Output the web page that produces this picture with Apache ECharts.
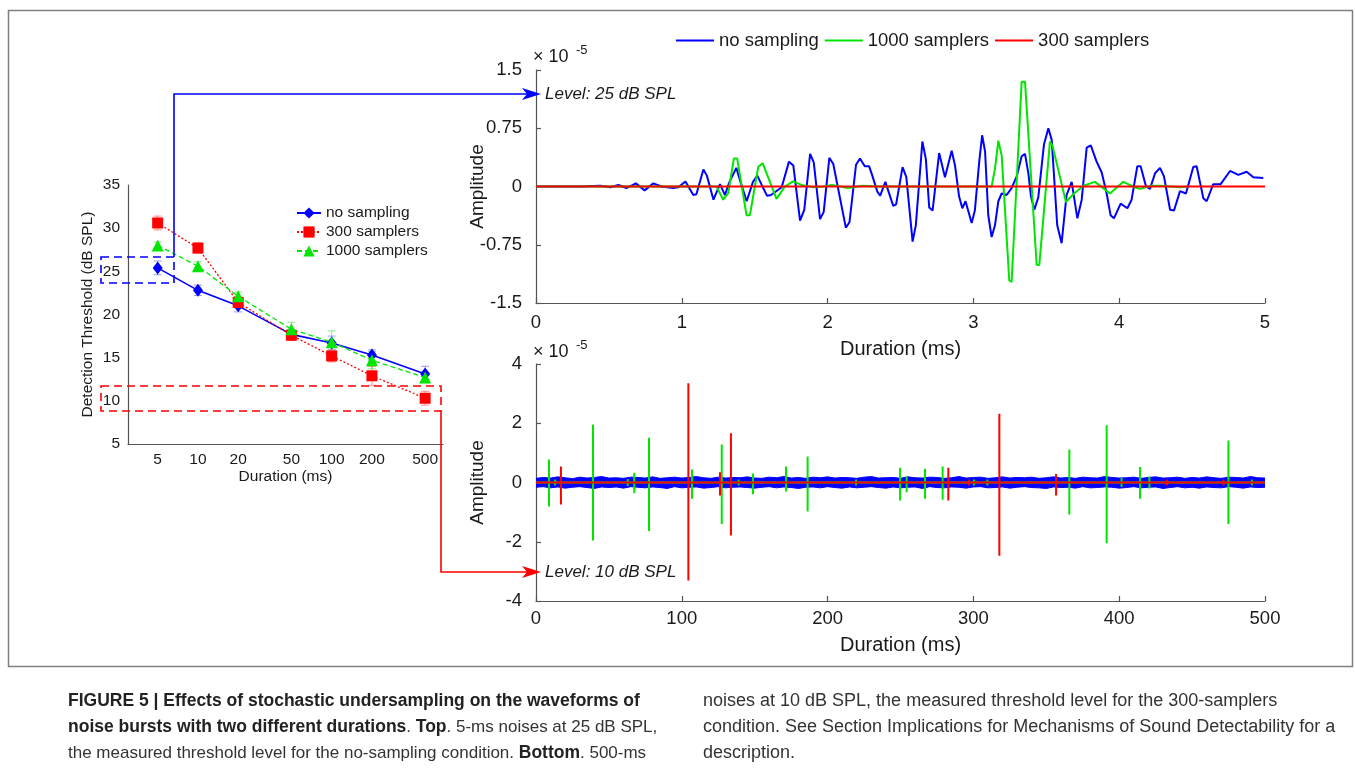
<!DOCTYPE html>
<html>
<head>
<meta charset="utf-8">
<title>Figure 5</title>
<script src="https://cdn.jsdelivr.net/npm/echarts@6/dist/echarts.min.js"></script>
<style>
  html, body { margin: 0; padding: 0; background: #fff; }
  #chart { width: 1355px; height: 769px; }
</style>
</head>
<body>
<div id="chart"></div>
<script>
// ---- left panel: detection thresholds (dB SPL) vs duration (ms) ----
var durations = [5, 10, 20, 50, 100, 200, 500];
var noSampling = [25.4, 22.8, 21.0, 17.7, 16.7, 15.3, 13.1];
var noSamplingErr = [0.8, 0.6, 0.7, 0.6, 0.8, 0.6, 0.9];
var samplers300 = [30.6, 27.7, 21.4, 17.6, 15.2, 12.9, 10.3];
var samplers300Err = [0.8, 0.6, 0.6, 0.6, 0.7, 1.1, 0.8];
var samplers1000 = [28.0, 25.6, 22.1, 18.3, 16.8, 14.7, 12.7];
var samplers1000Err = [0.4, 0.5, 0.5, 0.8, 1.3, 1.0, 0.6];

// ---- top panel: 5 ms waveform at 25 dB SPL, [time ms, amplitude x1e-5] ----
var topNoSampling = [[0,0],[0.30,0],[0.44,0.01],[0.51,-0.01],[0.565,0.02],[0.62,-0.02],[0.685,0.04],[0.745,-0.05],
  [0.805,0.04],[0.86,0],[0.94,-0.02],[0.976,-0.01],[1.025,0.065],[1.079,-0.11],[1.10,-0.10],[1.148,0.22],[1.172,0.14],
  [1.217,-0.17],[1.262,0.03],[1.296,-0.11],[1.325,0.05],[1.374,0.24],[1.404,0.05],[1.445,-0.19],[1.488,0.06],
  [1.518,0.14],[1.548,0.02],[1.585,-0.12],[1.612,-0.11],[1.685,-0.01],[1.735,0.32],[1.765,0.27],[1.811,-0.44],
  [1.84,-0.30],[1.88,0.42],[1.905,0.31],[1.948,-0.42],[1.973,-0.33],[2.012,0.37],[2.039,0.29],[2.125,-0.53],
  [2.15,-0.46],[2.195,0.28],[2.222,0.36],[2.255,0.26],[2.285,0.26],[2.305,0.15],[2.34,-0.06],[2.36,-0.12],
  [2.396,0.06],[2.45,-0.25],[2.47,-0.23],[2.514,0.25],[2.54,0.12],[2.583,-0.71],[2.605,-0.50],[2.65,0.58],
  [2.674,0.35],[2.697,-0.27],[2.72,-0.31],[2.765,0.43],[2.805,0.12],[2.851,0.46],[2.874,0.27],[2.902,-0.13],
  [2.924,-0.28],[2.946,-0.19],[2.988,-0.47],[3.01,-0.31],[3.04,0.32],[3.06,0.66],[3.08,0.45],[3.102,-0.37],
  [3.125,-0.65],[3.148,-0.50],[3.171,-0.19],[3.194,-0.09],[3.228,-0.11],[3.262,-0.02],[3.297,0.13],[3.331,0.39],
  [3.354,0.42],[3.377,0.17],[3.395,-0.13],[3.418,-0.30],[3.445,-0.14],[3.484,0.54],[3.514,0.75],[3.537,0.60],
  [3.575,-0.50],[3.605,-0.73],[3.639,-0.11],[3.674,0.06],[3.713,-0.41],[3.743,-0.17],[3.777,0.50],[3.805,0.53],
  [3.845,0.32],[3.88,0.18],[3.914,-0.09],[3.941,-0.37],[3.964,-0.41],[4.01,-0.22],[4.056,-0.28],[4.085,-0.17],
  [4.124,0.26],[4.147,0.26],[4.184,0],[4.211,-0.03],[4.246,0.17],[4.28,0.24],[4.307,0.13],[4.349,-0.30],
  [4.376,-0.31],[4.417,-0.06],[4.458,-0.09],[4.508,0.25],[4.531,0.26],[4.577,-0.15],[4.60,-0.19],[4.645,0.03],
  [4.696,0.03],[4.76,0.20],[4.817,0.15],[4.874,0.19],[4.92,0.12],[4.988,0.11]];
var top1000 = [[0,0],[1.238,0],[1.284,-0.17],[1.318,-0.09],[1.357,0.36],[1.38,0.36],[1.444,-0.37],[1.467,-0.37],
  [1.524,0.25],[1.554,0.30],[1.65,-0.16],[1.707,0],[1.764,0.065],[1.821,0.02],[1.901,-0.01],[1.97,0],[2.03,0.02],
  [2.14,-0.02],[2.24,0.01],[2.35,0],[3.125,0],[3.148,0.23],[3.171,0.59],[3.194,0.40],[3.246,-1.21],[3.262,-1.23],
  [3.331,1.35],[3.354,1.35],[3.434,-1.01],[3.452,-1.01],[3.525,0.58],[3.543,0.52],[3.635,-0.20],[3.685,-0.10],
  [3.754,0.01],[3.834,0.06],[3.937,-0.09],[4.028,0.06],[4.12,-0.02],[4.143,-0.03],[4.222,0.01],[4.28,0.01],
  [4.42,-0.01],[4.47,0]];
var top300 = [[0,0],[5,0]];

// ---- bottom panel: 500 ms waveform at 10 dB SPL ----
// no-sampling noise band envelope, one reading every 5 ms
var bandUp = [0.14,0.17,0.15,0.19,0.16,0.13,0.18,0.15,0.17,0.2,
  0.15,0.16,0.14,0.18,0.17,0.15,0.19,0.14,0.16,0.18,
  0.15,0.17,0.2,0.16,0.14,0.18,0.15,0.17,0.16,0.19,
  0.15,0.14,0.18,0.16,0.2,0.15,0.17,0.14,0.18,0.16,
  0.19,0.15,0.17,0.16,0.14,0.18,0.2,0.15,0.16,0.17,
  0.14,0.19,0.16,0.15,0.18,0.17,0.14,0.16,0.2,0.15,
  0.17,0.18,0.14,0.16,0.19,0.15,0.17,0.16,0.18,0.14,
  0.16,0.19,0.15,0.17,0.14,0.18,0.16,0.15,0.2,0.17,
  0.15,0.16,0.18,0.14,0.17,0.19,0.15,0.16,0.18,0.14,
  0.17,0.15,0.19,0.16,0.14,0.18,0.17,0.15,0.2,0.16,0.15];
var bandDown = [-0.16,-0.14,-0.18,-0.15,-0.19,-0.16,-0.14,-0.17,-0.2,-0.15,
  -0.17,-0.15,-0.19,-0.14,-0.16,-0.18,-0.15,-0.17,-0.2,-0.14,
  -0.18,-0.16,-0.15,-0.19,-0.17,-0.14,-0.18,-0.16,-0.15,-0.17,
  -0.19,-0.16,-0.14,-0.18,-0.15,-0.17,-0.2,-0.16,-0.15,-0.18,
  -0.14,-0.17,-0.19,-0.15,-0.18,-0.16,-0.14,-0.17,-0.19,-0.15,
  -0.18,-0.16,-0.15,-0.2,-0.14,-0.17,-0.18,-0.15,-0.16,-0.19,
  -0.15,-0.14,-0.18,-0.17,-0.15,-0.19,-0.16,-0.14,-0.17,-0.18,
  -0.2,-0.15,-0.17,-0.16,-0.19,-0.14,-0.18,-0.17,-0.15,-0.16,
  -0.19,-0.17,-0.14,-0.18,-0.16,-0.15,-0.2,-0.17,-0.14,-0.18,
  -0.16,-0.19,-0.15,-0.17,-0.18,-0.14,-0.16,-0.19,-0.15,-0.17,-0.16];
var spikes1000T = [8.9, 13.1, 39.1, 62.9, 67.4, 77.5, 107.0, 127.4, 139.0, 148.8, 171.5, 186.3, 219.5, 249.7,
  254.2, 266.8, 278.9, 300.4, 309.6, 365.8, 391.4, 401.6, 414.3, 420.7, 474.9, 491.0];
var spikes1000Up = [0.78, 0.1, 1.96, 0.12, 0.33, 1.51, 0.44, 1.28, 0.1, 0.30, 0.54, 0.88, 0.1, 0.50,
  0.2, 0.46, 0.54, 0.1, 0.1, 1.11, 1.93, 0.15, 0.52, 0.2, 1.42, 0.1];
var spikes1000Down = [-0.81, -0.1, -1.96, -0.12, -0.36, -1.64, -0.55, -1.40, -0.1, -0.40, -0.30, -0.98, -0.1, -0.61,
  -0.33, -0.55, -0.58, -0.1, -0.1, -1.08, -2.05, -0.15, -0.55, -0.2, -1.40, -0.1];
var spikes300T = [17.1, 104.5, 126.2, 133.7, 282.8, 297.0, 317.8, 356.7, 432.6, 471.5];
var spikes300Up = [0.54, 3.35, 0.35, 1.66, 0.50, 0.1, 2.32, 0.29, 0.1, 0.1];
var spikes300Down = [-0.74, -3.31, -0.44, -1.79, -0.61, -0.1, -2.47, -0.44, -0.1, -0.1];

var FONT = '"Liberation Sans", Arial, Helvetica, sans-serif';
var BLUE = '#0000ff', RED = '#ff0000', GREEN = '#00e600';
var TEXT = '#1a1a1a', AXIS = '#555';

var chart = echarts.init(document.getElementById('chart'));

function logPts(vals) {
  return durations.map(function (d, i) { return [Math.log10(d), vals[i]]; });
}

function errSeries(vals, errs, color) {
  return {
    type: 'custom', xAxisIndex: 0, yAxisIndex: 0, silent: true, z: 1,
    encode: { x: 0, y: 1 },
    data: durations.map(function (d, i) { return [Math.log10(d), vals[i], errs[i]]; }),
    renderItem: function (params, api) {
      var x = api.value(0), y = api.value(1), e = api.value(2);
      var hi = api.coord([x, y + e]), lo = api.coord([x, y - e]);
      var st = { stroke: color, lineWidth: 1 };
      return { type: 'group', children: [
        { type: 'line', shape: { x1: hi[0], y1: hi[1], x2: lo[0], y2: lo[1] }, style: st },
        { type: 'line', shape: { x1: hi[0] - 4, y1: hi[1], x2: hi[0] + 4, y2: hi[1] }, style: st },
        { type: 'line', shape: { x1: lo[0] - 4, y1: lo[1], x2: lo[0] + 4, y2: lo[1] }, style: st }
      ]};
    }
  };
}

function spikeLine(ts, ups, downs) {
  var pts = [[0, 0]];
  ts.forEach(function (t, i) { pts.push([t, 0], [t, ups[i]], [t, downs[i]], [t, 0]); });
  pts.push([500, 0]);
  return pts;
}

var bandT = bandUp.map(function (v, i) { return i * 5; });

var axisLine = { show: true, onZero: false, lineStyle: { color: AXIS, width: 1.2 } };
var inTick = { show: true, inside: true, length: 5, lineStyle: { color: AXIS, width: 1.2 } };
function lbl(size, margin) { return { fontSize: size, color: TEXT, margin: margin, fontFamily: FONT }; }
function nameStyle(size) { return { fontSize: size, color: TEXT, fontFamily: FONT }; }

var capBold = { fontWeight: 'bold', fontSize: 17.5, fontFamily: FONT, fill: '#222' };
var capNorm = { fontSize: 17, fontFamily: FONT, fill: '#333' };

var option = {
  animation: false,
  textStyle: { fontFamily: FONT, color: TEXT },
  grid: [
    { left: 128, top: 185, width: 315, height: 259 },
    { left: 536, top: 70, width: 729, height: 233 },
    { left: 536, top: 364, width: 729, height: 237 }
  ],
  legend: [
    {
      orient: 'vertical', left: 291, top: 200, itemWidth: 24, itemHeight: 14, itemGap: 3,
      selectedMode: false,
      data: ['no sampling', '300 samplers', '1000 samplers'],
      textStyle: { fontSize: 15.5, color: TEXT, fontFamily: FONT }
    },
    {
      orient: 'horizontal', left: 671, top: 26, itemWidth: 38, itemHeight: 2, itemGap: 6,
      icon: 'rect', selectedMode: false,
      data: ['no sampling', '1000 samplers', '300 samplers'],
      textStyle: { fontSize: 18.5, color: TEXT, fontFamily: FONT }
    }
  ],
  xAxis: [
    {
      gridIndex: 0, type: 'value', min: Math.log10(3), max: Math.log10(680),
      axisLine: axisLine, axisTick: { show: false }, splitLine: { show: false },
      axisLabel: Object.assign(lbl(15.5, 8), {
        customValues: durations.map(function (d) { return Math.log10(d); }),
        formatter: function (v) { return String(Math.round(Math.pow(10, v))); }
      }),
      name: 'Duration (ms)', nameLocation: 'middle', nameGap: 22, nameTextStyle: nameStyle(15.5)
    },
    {
      gridIndex: 1, type: 'value', min: 0, max: 5, interval: 1,
      axisLine: axisLine, axisTick: inTick, splitLine: { show: false },
      axisLabel: lbl(18.5, 10),
      name: 'Duration (ms)', nameLocation: 'middle', nameGap: 36, nameTextStyle: nameStyle(20)
    },
    {
      gridIndex: 2, type: 'value', min: 0, max: 500, interval: 100,
      axisLine: axisLine, axisTick: inTick, splitLine: { show: false },
      axisLabel: lbl(18.5, 8),
      name: 'Duration (ms)', nameLocation: 'middle', nameGap: 34, nameTextStyle: nameStyle(20)
    }
  ],
  yAxis: [
    {
      gridIndex: 0, type: 'value', min: 5, max: 35, interval: 5,
      axisLine: axisLine, axisTick: { show: false }, splitLine: { show: false },
      axisLabel: lbl(15.5, 8),
      name: 'Detection Threshold (dB SPL)', nameLocation: 'middle', nameGap: 32, nameTextStyle: nameStyle(15.5)
    },
    {
      gridIndex: 1, type: 'value', min: -1.5, max: 1.5, interval: 0.75,
      axisLine: axisLine, axisTick: inTick, splitLine: { show: false },
      axisLabel: lbl(18.5, 14),
      name: 'Amplitude', nameLocation: 'middle', nameGap: 49, nameMoveOverlap: false, nameTextStyle: nameStyle(19)
    },
    {
      gridIndex: 2, type: 'value', min: -4, max: 4, interval: 2,
      axisLine: axisLine, axisTick: inTick, splitLine: { show: false },
      axisLabel: lbl(18.5, 14),
      name: 'Amplitude', nameLocation: 'middle', nameGap: 49, nameMoveOverlap: false, nameTextStyle: nameStyle(19)
    }
  ],
  series: [
    // left panel
    {
      name: 'no sampling', type: 'line', xAxisIndex: 0, yAxisIndex: 0, z: 3,
      data: logPts(noSampling), symbol: 'diamond', symbolSize: [10, 13],
      itemStyle: { color: BLUE }, lineStyle: { color: BLUE, width: 1.6 }
    },
    {
      name: '300 samplers', type: 'line', xAxisIndex: 0, yAxisIndex: 0, z: 4,
      data: logPts(samplers300), symbol: 'rect', symbolSize: 11,
      itemStyle: { color: RED }, lineStyle: { color: RED, width: 1.3, type: [2, 2] }
    },
    {
      name: '1000 samplers', type: 'line', xAxisIndex: 0, yAxisIndex: 0, z: 5,
      data: logPts(samplers1000), symbol: 'triangle', symbolSize: 12,
      itemStyle: { color: GREEN }, lineStyle: { color: GREEN, width: 1.3, type: [5, 3] }
    },
    errSeries(noSampling, noSamplingErr, 'rgba(90,90,255,0.6)'),
    errSeries(samplers300, samplers300Err, 'rgba(255,70,70,0.6)'),
    errSeries(samplers1000, samplers1000Err, 'rgba(60,220,60,0.6)'),
    // top panel
    {
      name: 'no sampling', type: 'line', xAxisIndex: 1, yAxisIndex: 1, z: 2,
      data: topNoSampling, symbol: 'none', lineStyle: { color: BLUE, width: 2 }, itemStyle: { color: BLUE }
    },
    {
      name: '1000 samplers', type: 'line', xAxisIndex: 1, yAxisIndex: 1, z: 3,
      data: top1000, symbol: 'none', lineStyle: { color: GREEN, width: 2 }, itemStyle: { color: GREEN }
    },
    {
      name: '300 samplers', type: 'line', xAxisIndex: 1, yAxisIndex: 1, z: 4,
      data: top300, symbol: 'none', lineStyle: { color: RED, width: 2 }, itemStyle: { color: RED }
    },
    // bottom panel: noise band, upper and lower envelope each filled to zero
    {
      name: 'no sampling', type: 'line', xAxisIndex: 2, yAxisIndex: 2, z: 2, symbol: 'none',
      data: bandT.map(function (t, i) { return [t, bandUp[i]]; }),
      lineStyle: { color: BLUE, width: 1 }, itemStyle: { color: BLUE },
      areaStyle: { color: BLUE, opacity: 1, origin: 0 }
    },
    {
      name: 'no sampling', type: 'line', xAxisIndex: 2, yAxisIndex: 2, z: 2, symbol: 'none',
      data: bandT.map(function (t, i) { return [t, bandDown[i]]; }),
      lineStyle: { color: BLUE, width: 1 }, itemStyle: { color: BLUE },
      areaStyle: { color: BLUE, opacity: 1, origin: 0 }
    },
    {
      name: '1000 samplers', type: 'line', xAxisIndex: 2, yAxisIndex: 2, z: 3,
      data: spikeLine(spikes1000T, spikes1000Up, spikes1000Down), symbol: 'none',
      lineStyle: { color: GREEN, width: 2 }, itemStyle: { color: GREEN }
    },
    {
      name: '300 samplers', type: 'line', xAxisIndex: 2, yAxisIndex: 2, z: 4,
      data: spikeLine(spikes300T, spikes300Up, spikes300Down), symbol: 'none',
      lineStyle: { color: RED, width: 2 }, itemStyle: { color: RED }
    }
  ],
  graphic: [
    // figure frame
    { type: 'rect', shape: { x: 8.5, y: 10.5, width: 1344, height: 656 }, style: { fill: 'none', stroke: '#808080', lineWidth: 1.5 }, z: 0, silent: true },
    // zoom boxes on the threshold panel
    { type: 'rect', shape: { x: 101, y: 257, width: 73, height: 26 }, style: { fill: 'none', stroke: BLUE, lineWidth: 1.6, lineDash: [8, 5] }, z: 10, silent: true },
    { type: 'rect', shape: { x: 101, y: 386, width: 340, height: 25 }, style: { fill: 'none', stroke: RED, lineWidth: 1.6, lineDash: [8, 5] }, z: 10, silent: true },
    // connectors
    { type: 'polyline', shape: { points: [[174, 257], [174, 94], [528, 94]] }, style: { fill: 'none', stroke: BLUE, lineWidth: 1.6 }, z: 10, silent: true },
    { type: 'polygon', shape: { points: [[522, 88], [541, 94], [522, 100], [527, 94]] }, style: { fill: BLUE }, z: 10, silent: true },
    { type: 'polyline', shape: { points: [[441, 411], [441, 572], [528, 572]] }, style: { fill: 'none', stroke: RED, lineWidth: 1.6 }, z: 10, silent: true },
    { type: 'polygon', shape: { points: [[522, 566], [541, 572], [522, 578], [527, 572]] }, style: { fill: RED }, z: 10, silent: true },
    { type: 'text', style: { x: 545, y: 94, text: 'Level: 25 dB SPL', fontSize: 17, fontStyle: 'italic', fontFamily: FONT, fill: TEXT, verticalAlign: 'middle' }, z: 10, silent: true },
    { type: 'text', style: { x: 545, y: 572, text: 'Level: 10 dB SPL', fontSize: 17, fontStyle: 'italic', fontFamily: FONT, fill: TEXT, verticalAlign: 'middle' }, z: 10, silent: true },
    // exponent labels
    { type: 'text', style: { x: 533, y: 57, text: '\u00d7 10', fontSize: 18, fontFamily: FONT, fill: TEXT, verticalAlign: 'middle' }, silent: true },
    { type: 'text', style: { x: 576, y: 50, text: '-5', fontSize: 13, fontFamily: FONT, fill: TEXT, verticalAlign: 'middle' }, silent: true },
    { type: 'text', style: { x: 533, y: 352, text: '\u00d7 10', fontSize: 18, fontFamily: FONT, fill: TEXT, verticalAlign: 'middle' }, silent: true },
    { type: 'text', style: { x: 576, y: 345, text: '-5', fontSize: 13, fontFamily: FONT, fill: TEXT, verticalAlign: 'middle' }, silent: true },
    // caption
    { type: 'text', style: { x: 68, y: 701, verticalAlign: 'middle', text: '{b|FIGURE 5 | Effects of stochastic undersampling on the waveforms of}',
      rich: { b: capBold } }, silent: true },
    { type: 'text', style: { x: 68, y: 727, verticalAlign: 'middle', text: '{b|noise bursts with two different durations}{n|. }{b|Top}{n|. 5-ms noises at 25 dB SPL,}',
      rich: { b: capBold, n: capNorm } }, silent: true },
    { type: 'text', style: { x: 68, y: 753, verticalAlign: 'middle', text: '{n|the measured threshold level for the no-sampling condition. }{b|Bottom}{n|. 500-ms}',
      rich: { b: capBold, n: capNorm } }, silent: true },
    { type: 'text', style: { x: 703, y: 701, verticalAlign: 'middle', text: 'noises at 10 dB SPL, the measured threshold level for the 300-samplers', fontSize: 18, fontFamily: FONT, fill: '#333' }, silent: true },
    { type: 'text', style: { x: 703, y: 727, verticalAlign: 'middle', text: 'condition. See Section Implications for Mechanisms of Sound Detectability for a', fontSize: 18, fontFamily: FONT, fill: '#333' }, silent: true },
    { type: 'text', style: { x: 703, y: 753, verticalAlign: 'middle', text: 'description.', fontSize: 18, fontFamily: FONT, fill: '#333' }, silent: true }
  ]
};

chart.setOption(option);
window.addEventListener('resize', function () { chart.resize(); });
</script>
</body>
</html>
